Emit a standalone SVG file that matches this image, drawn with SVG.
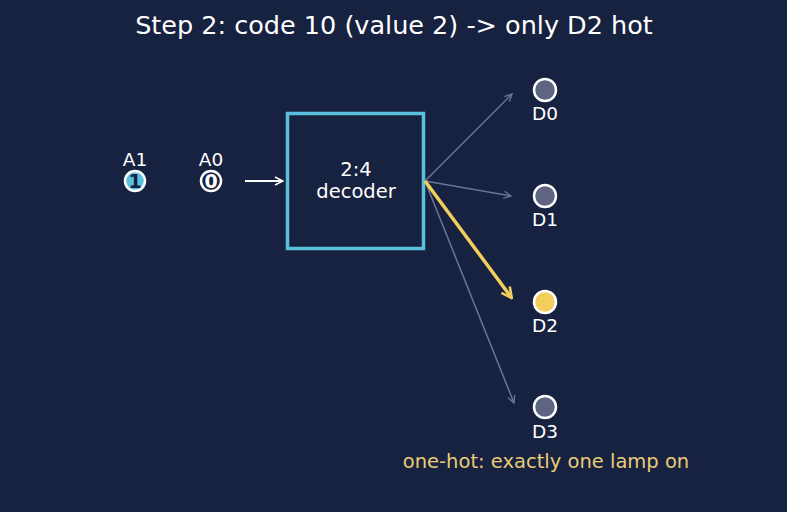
<svg xmlns="http://www.w3.org/2000/svg" width="787" height="512" viewBox="0 0 787 512">
<defs>
<style>
text{font-family:"DejaVu Sans",sans-serif;fill:#ffffff;text-anchor:middle}
.lbl{font-size:18.5px}
.lamp{stroke:#ffffff;stroke-width:2.5}
.off{fill:#5e6582}
.wire{fill:none;stroke:#6b7594;stroke-width:1.5}
</style>
<marker id="ag" viewBox="0 0 10 10" refX="9" refY="5" markerWidth="9" markerHeight="9" orient="auto" markerUnits="userSpaceOnUse"><path d="M1,1 L9,5 L1,9" fill="none" stroke="#6b7594" stroke-width="1.5"/></marker>
<marker id="aw" viewBox="0 0 10 10" refX="9" refY="5" markerWidth="10" markerHeight="10" orient="auto" markerUnits="userSpaceOnUse"><path d="M1,1 L9,5 L1,9" fill="none" stroke="#ffffff" stroke-width="1.5"/></marker>
<marker id="ay" viewBox="0 0 10 10" refX="8" refY="5" markerWidth="13" markerHeight="13" orient="auto" markerUnits="userSpaceOnUse"><path d="M1,1 L9,5 L1,9" fill="none" stroke="#f2cf5c" stroke-width="2"/></marker>
</defs>
<rect width="787" height="512" fill="#172140"/>
<text x="394" y="34" style="font-size:25.5px">Step 2: code 10 (value 2) -&gt; only D2 hot</text>
<g id="A1">
<text class="lbl" x="135" y="166">A1</text>
<circle class="lamp" cx="135" cy="181" r="10" fill="#5bc0de"/>
<text x="135" y="188" style="font-size:19px;font-weight:bold;fill:#172140">1</text>
</g>
<g id="A0">
<text class="lbl" x="211" y="166">A0</text>
<circle class="lamp" cx="211" cy="181" r="10" fill="#172140"/>
<text x="211" y="188" style="font-size:19px;font-weight:bold">0</text>
</g>
<g id="decoder">
<rect x="287.5" y="113.5" width="136" height="135" fill="#172140" stroke="#5bc0de" stroke-width="3.5"/>
<text x="356" y="176" style="font-size:19.5px">2:4</text>
<text x="356" y="198" style="font-size:19.5px">decoder</text>
</g>
<g id="D0"><circle class="lamp off" cx="545" cy="90" r="11"/><text class="lbl" x="545" y="120">D0</text></g>
<g id="D1"><circle class="lamp off" cx="545" cy="196" r="11"/><text class="lbl" x="545" y="226">D1</text></g>
<g id="D2"><circle class="lamp" cx="545" cy="302" r="11" fill="#f2cf5c"/><text class="lbl" x="545" y="332">D2</text></g>
<g id="D3"><circle class="lamp off" cx="545" cy="407" r="11"/><text class="lbl" x="545" y="438">D3</text></g>
<g id="connectors">
<line x1="245" y1="181" x2="283" y2="181" stroke="#ffffff" stroke-width="1.8" marker-end="url(#aw)"/>
<line class="wire" x1="425" y1="181" x2="512" y2="94" marker-end="url(#ag)"/>
<line class="wire" x1="425" y1="181" x2="511" y2="196" marker-end="url(#ag)"/>
<line class="wire" x1="425" y1="181" x2="514" y2="403" marker-end="url(#ag)"/>
<line x1="425" y1="181" x2="511" y2="297" stroke="#f2cf5c" stroke-width="3.5" marker-end="url(#ay)"/>
</g>
<text x="546" y="468" style="font-size:19.5px;fill:#eacb78">one-hot: exactly one lamp on</text>
</svg>
